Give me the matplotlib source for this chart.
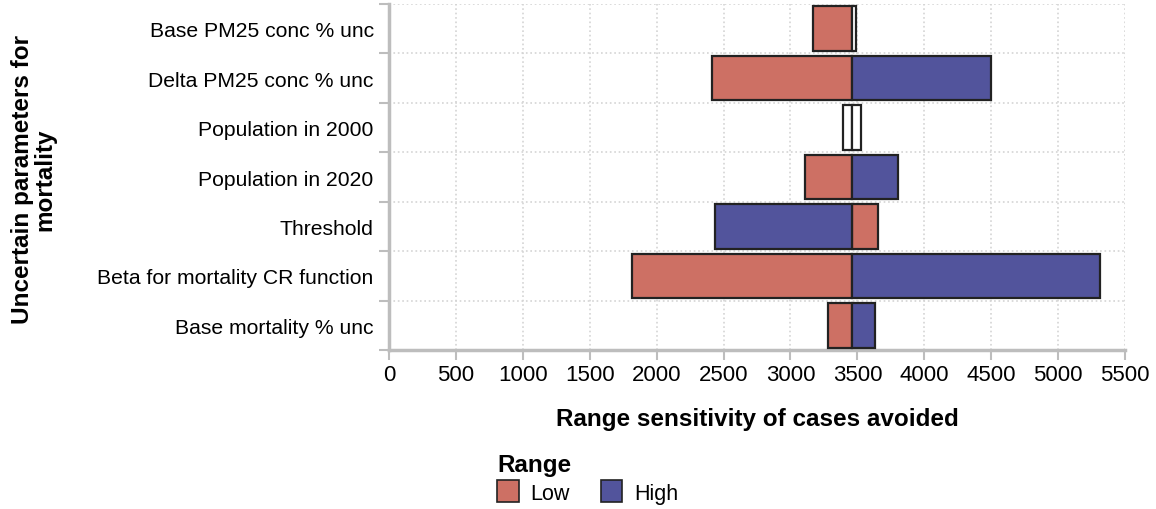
import matplotlib.pyplot as plt
import numpy as np

# --- data ---
params = ["Base PM25 conc % unc", "Delta PM25 conc % unc", "Population in 2000",
          "Population in 2020", "Threshold", "Beta for mortality CR function",
          "Base mortality % unc"]
base_value = 3460
low_values = [3170, 2415, 3395, 3110, 3655, 1815, 3280]
high_values = [3490, 4500, 3530, 3805, 2435, 5315, 3630]
x_ticks = list(range(0, 5501, 500))

plt.rcParams["font.family"] = ["Liberation Sans", "DejaVu Sans"]

LOW_COLOR = "#cd7064"
HIGH_COLOR = "#52549c"
GRID = "#d4d4d4"
AXIS = "#bdbdbd"

fig = plt.figure(figsize=(11.56, 5.1), dpi=100)
ax = fig.add_axes([389 / 1156, 1 - 351 / 510, (1125 - 389) / 1156, 346 / 510])

y = np.arange(len(params))
for yi, lo, hi in zip(y, low_values, high_values):
    for val, col in ((lo, LOW_COLOR), (hi, HIGH_COLOR)):
        # tiny swings are drawn as empty boxes
        fc = "white" if abs(val - base_value) < 100 else col
        ax.barh(yi, val - base_value, left=base_value, height=0.9,
                color=fc, edgecolor="#222222", linewidth=1.6, zorder=3)

ax.set_xlim(0, 5500)
ax.set_ylim(len(params) - 0.5, -0.5)
ax.set_xticks(x_ticks)
ax.set_yticks(y)
ax.set_yticklabels(params, fontsize=15.2)
ax.set_yticks(np.arange(-0.5, len(params), 1.0), minor=True)
ax.tick_params(axis="y", which="major", length=0, pad=11)
ax.tick_params(axis="y", which="minor", length=7, width=1.5, color=AXIS)
ax.tick_params(axis="x", length=7, width=1.5, color=AXIS, labelsize=16, pad=3)

ax.grid(True, axis="x", which="major", linestyle=":", color=GRID, linewidth=1.2, zorder=0)
ax.grid(True, axis="y", which="minor", linestyle=":", color=GRID, linewidth=1.2, zorder=0)

for s in ("top", "right"):
    ax.spines[s].set_visible(False)
for s in ("left", "bottom"):
    ax.spines[s].set_color(AXIS)
    ax.spines[s].set_linewidth(2.5)

ax.set_xlabel("Range sensitivity of cases avoided", fontsize=17.5, fontweight="bold", labelpad=16)
fig.text(0.029, 1 - 180 / 510, "Uncertain parameters for\nmortality", rotation=90,
         fontsize=17.5, fontweight="bold", ha="center", va="center", linespacing=1.0)

# --- legend ---
handles = [plt.Rectangle((0, 0), 1, 1, facecolor=LOW_COLOR, edgecolor="#222222", linewidth=1.2),
           plt.Rectangle((0, 0), 1, 1, facecolor=HIGH_COLOR, edgecolor="#222222", linewidth=1.2)]
leg = fig.legend(handles, ["Low", "High"], title="Range", ncol=2, loc="upper left",
                 bbox_to_anchor=(497 / 1156, 1 - 454 / 510), frameon=False,
                 fontsize=15.5, title_fontproperties={"weight": "bold", "size": 17.5},
                 alignment="left", handlelength=1.0, handleheight=1.2,
                 handletextpad=0.55, columnspacing=1.45, borderpad=0.0, labelspacing=0.2,
                 borderaxespad=0.0)

fig.savefig("out.png", dpi=100)
